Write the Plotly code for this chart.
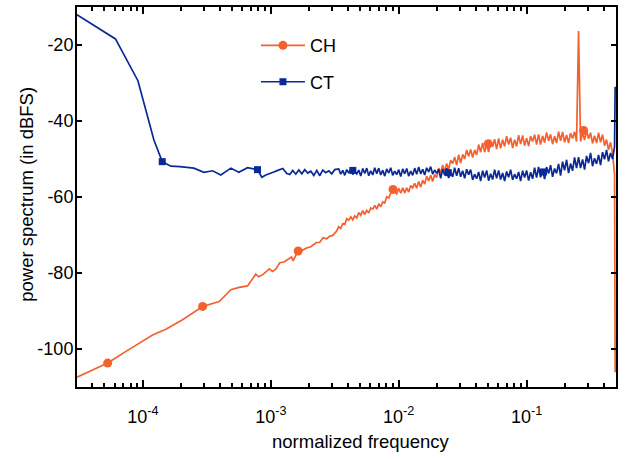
import plotly.graph_objects as go

# ---------------- data ----------------
# low-frequency part, CH
ch_f_lo = [3.05e-5, 5.30e-5, 7.64e-5, 1.088e-4, 1.19e-4, 1.512e-4, 2.04e-4, 2.93e-4, 3.95e-4,
           4.87e-4, 5.65e-4, 6.58e-4, 7.63e-4, 8.01e-4, 8.61e-4, 9.26e-4, 9.70e-4, 1.031e-3,
           1.094e-3, 1.176e-3, 1.263e-3, 1.365e-3, 1.451e-3, 1.493e-3, 1.634e-3, 1.747e-3,
           1.901e-3, 2.054e-3, 2.275e-3, 2.414e-3, 2.562e-3, 2.738e-3, 2.890e-3, 3.05e-3, 3.26e-3]
ch_db_lo = [-107.4, -103.7, -100.3, -97.0, -96.3, -94.8, -92.3, -88.8, -87.5,
            -84.4, -83.8, -83.4, -80.3, -81.0, -80.5, -79.6, -78.9, -79.6,
            -79.0, -77.3, -77.1, -76.4, -75.8, -76.8, -74.2, -74.1,
            -73.4, -73.1, -72.0, -71.9, -70.7, -71.0, -70.3, -70.1, -69.0]

# low-frequency part, CT
ct_f_lo = [3.05e-5, 6.10e-5, 9.14e-5, 1.219e-4, 1.416e-4, 1.656e-4, 1.945e-4, 2.503e-4, 2.996e-4,
           3.503e-4, 4.067e-4, 4.87e-4, 5.62e-4, 6.58e-4, 7.87e-4, 8.51e-4, 9.14e-4, 9.82e-4,
           1.055e-3, 1.134e-3, 1.241e-3, 1.334e-3, 1.407e-3, 1.485e-3, 1.568e-3, 1.655e-3,
           1.747e-3, 1.843e-3, 1.946e-3, 2.054e-3, 2.168e-3, 2.288e-3, 2.414e-3, 2.548e-3,
           2.690e-3, 2.839e-3, 2.996e-3, 3.162e-3]
ct_db_lo = [-12.0, -18.4, -29.4, -45.0, -50.7, -51.9, -52.0, -52.4, -53.5,
            -53.1, -54.2, -52.4, -53.5, -52.3, -52.8, -54.8, -54.2, -53.9,
            -53.4, -53.0, -52.5, -53.8, -54.1, -53.0, -54.0, -52.9,
            -53.9, -52.8, -53.7, -53.2, -54.3, -53.0, -54.4, -52.9,
            -53.6, -53.1, -53.9, -52.8]

# dense high-frequency grid shared by both series
f_hi = [3.398e-3, 3.523e-3, 3.652e-3, 3.786e-3, 3.924e-3, 4.068e-3, 4.217e-3, 4.371e-3, 4.532e-3, 4.698e-3,
        4.870e-3, 5.048e-3, 5.233e-3, 5.425e-3, 5.623e-3, 5.829e-3, 6.043e-3, 6.264e-3, 6.494e-3, 6.732e-3,
        6.978e-3, 7.234e-3, 7.499e-3, 7.774e-3, 8.058e-3, 8.354e-3, 8.660e-3, 8.977e-3, 9.306e-3, 9.647e-3,
        1.000e-2, 1.037e-2, 1.075e-2, 1.114e-2, 1.155e-2, 1.197e-2, 1.241e-2, 1.286e-2, 1.334e-2, 1.382e-2,
        1.433e-2, 1.486e-2, 1.540e-2, 1.596e-2, 1.655e-2, 1.715e-2, 1.778e-2, 1.843e-2, 1.911e-2, 1.981e-2,
        2.054e-2, 2.129e-2, 2.207e-2, 2.288e-2, 2.371e-2, 2.458e-2, 2.548e-2, 2.642e-2, 2.738e-2, 2.839e-2,
        2.943e-2, 3.051e-2, 3.162e-2, 3.278e-2, 3.398e-2, 3.523e-2, 3.652e-2, 3.786e-2, 3.924e-2, 4.068e-2,
        4.217e-2, 4.371e-2, 4.532e-2, 4.698e-2, 4.870e-2, 5.048e-2, 5.233e-2, 5.425e-2, 5.623e-2, 5.829e-2,
        6.043e-2, 6.264e-2, 6.494e-2, 6.732e-2, 6.978e-2, 7.234e-2, 7.499e-2, 7.774e-2, 8.058e-2, 8.354e-2,
        8.660e-2, 8.977e-2, 9.306e-2, 9.647e-2,
        0.1000, 0.1037, 0.1075, 0.1114, 0.1155, 0.1197,
        0.1241, 0.1286, 0.1334, 0.1382, 0.1433, 0.1486, 0.1540, 0.1596, 0.1655, 0.1715,
        0.1778, 0.1843, 0.1911, 0.1981, 0.2054, 0.2129, 0.2207, 0.2288, 0.2371, 0.2458,
        0.2548, 0.2642, 0.2738, 0.2839, 0.2943, 0.3051, 0.3162, 0.3278, 0.3398, 0.3523,
        0.3652, 0.3786, 0.3924, 0.4068, 0.4217, 0.4371, 0.4532, 0.4698, 0.4870]

ch_db_hi = [-67.8, -68.3, -67.0, -67.2, -65.7, -66.1, -65.2, -66.0, -65.0, -65.5,
            -64.1, -64.8, -63.6, -64.6, -63.5, -64.2, -62.9, -63.2, -62.2, -63.2,
            -61.8, -62.6, -61.3, -61.6, -59.9, -60.3, -59.0, -58.2, -58.6, -59.2,
            -57.7, -59.0, -57.6, -58.9, -57.6, -58.7, -57.0, -57.6, -56.4, -57.7,
            -55.9, -57.4, -55.6, -56.6, -54.5, -55.8, -54.3, -55.9, -54.1, -54.9,
            -52.4, -53.7, -51.6, -53.3, -51.2, -52.8, -50.3, -51.2, -49.5, -51.6,
            -48.9, -51.1, -48.8, -50.0, -47.6, -49.3, -47.5, -49.6, -47.6, -48.9,
            -46.2, -48.2, -45.8, -48.2, -46.1, -48.2, -45.4, -46.8, -44.8, -47.4,
            -44.6, -47.2, -44.9, -46.7, -44.0, -46.2, -44.4, -47.1, -44.9, -46.7,
            -43.7, -46.1, -43.8, -46.5, -44.5, -46.6, -44.0, -45.4, -43.6, -46.2,
            -43.5, -46.2, -43.9, -45.7, -43.0, -45.2, -43.5, -46.1, -44.0, -45.8,
            -42.8, -45.2, -42.9, -45.6, -43.7, -45.8, -43.2, -44.6, -42.8, -45.4,
            -16.3, -45.4, -43.2, -45.0, -42.5, -44.7, -43.1, -45.9, -43.9, -45.8,
            -43.1, -45.6, -43.6, -46.5, -44.9, -47.6, -45.6, -48.5, -54.0]

ct_db_hi = [-52.6, -54.0, -53.0, -54.3, -52.8, -53.7, -52.5, -54.1, -53.2, -53.9,
            -52.9, -54.5, -52.5, -53.8, -52.4, -54.4, -53.1, -54.2, -52.3, -53.9,
            -52.4, -54.2, -53.0, -54.5, -52.6, -53.7, -52.3, -54.3, -53.2, -54.1,
            -52.8, -54.6, -52.6, -53.9, -52.5, -54.5, -53.2, -54.3, -52.4, -54.0,
            -52.1, -53.9, -52.7, -54.2, -52.3, -53.4, -52.0, -54.0, -52.9, -53.8,
            -52.7, -55.1, -52.6, -54.3, -52.4, -55.0, -53.3, -54.7, -52.3, -54.4,
            -52.4, -54.7, -53.1, -55.1, -52.7, -54.1, -52.8, -55.5, -54.0, -55.2,
            -53.4, -55.8, -53.1, -54.9, -53.0, -55.7, -53.9, -55.4, -52.8, -55.1,
            -53.0, -55.4, -53.7, -55.8, -53.3, -54.8, -52.8, -55.5, -54.0, -55.2,
            -53.4, -55.8, -53.1, -54.9, -53.0, -55.7, -53.5, -55.2, -52.3, -54.9,
            -52.1, -54.8, -52.9, -55.3, -52.1, -53.8, -51.6, -54.7, -52.5, -53.8,
            -51.3, -54.4, -50.7, -53.0, -50.2, -53.7, -51.2, -53.1, -49.6, -52.4,
            -49.5, -52.4, -50.1, -52.8, -49.2, -51.1, -48.4, -51.9, -49.8, -51.3,
            -48.9, -51.6, -48.2, -50.1, -47.6, -50.6, -48.4, -50.0, -46.8]

# last bin (near Nyquist)
f_end = [0.4925]
ch_db_end = [-106.1]
ct_db_end = [-31.0]

# marker positions
ch_mk_f = [5.30e-5, 2.93e-4, 1.636e-3, 9.03e-3, 5.02e-2, 0.2794]
ch_mk_db = [-103.7, -88.8, -74.2, -58.0, -46.0, -42.5]
ct_mk_f = [1.416e-4, 7.87e-4, 4.38e-3, 2.44e-2, 0.1356]
ct_mk_db = [-50.7, -52.8, -53.0, -53.6, -53.4]

# axis ticks
x_tickvals = [1e-4, 1e-3, 1e-2, 1e-1]
x_ticktext = ["10<sup>-4</sup>", "10<sup>-3</sup>", "10<sup>-2</sup>", "10<sup>-1</sup>"]
x_minorvals = [4e-5, 5e-5, 6e-5, 7e-5, 8e-5, 9e-5,
               2e-4, 3e-4, 4e-4, 5e-4, 6e-4, 7e-4, 8e-4, 9e-4,
               2e-3, 3e-3, 4e-3, 5e-3, 6e-3, 7e-3, 8e-3, 9e-3,
               2e-2, 3e-2, 4e-2, 5e-2, 6e-2, 7e-2, 8e-2, 9e-2,
               0.2, 0.3, 0.4]
y_tickvals = [-100, -80, -60, -40, -20]
y_ticktext = ["-100", "-80", "-60", "-40", "-20"]

series_names = ["CH", "CT"]
ch_color = "#F4602E"
ct_color = "#0A2996"

# ---------------- figure ----------------
ch_f = ch_f_lo + f_hi + f_end
ch_db = ch_db_lo + ch_db_hi + ch_db_end
ct_f = ct_f_lo + f_hi + f_end
ct_db = ct_db_lo + ct_db_hi + ct_db_end

FONT = "Liberation Sans, Arial, Helvetica, sans-serif"

fig = go.Figure()
fig.add_trace(go.Scatter(x=ch_f, y=ch_db, mode="lines", line=dict(color=ch_color, width=1.7),
                         showlegend=False, legendgroup="ch", hoverinfo="skip"))
fig.add_trace(go.Scatter(x=ch_mk_f, y=ch_mk_db, mode="markers",
                         marker=dict(symbol="circle", size=9, color=ch_color),
                         showlegend=False, legendgroup="ch"))
fig.add_trace(go.Scatter(x=ct_f, y=ct_db, mode="lines", line=dict(color=ct_color, width=1.7),
                         showlegend=False, legendgroup="ct", hoverinfo="skip"))
fig.add_trace(go.Scatter(x=ct_mk_f, y=ct_mk_db, mode="markers",
                         marker=dict(symbol="square", size=7, color=ct_color),
                         showlegend=False, legendgroup="ct"))
# legend entries
fig.add_trace(go.Scatter(x=[None], y=[None], mode="lines+markers", name=series_names[0],
                         line=dict(color=ch_color, width=1.6),
                         marker=dict(symbol="circle", size=9, color=ch_color), legendgroup="ch"))
fig.add_trace(go.Scatter(x=[None], y=[None], mode="lines+markers", name=series_names[1],
                         line=dict(color=ct_color, width=1.6),
                         marker=dict(symbol="square", size=7, color=ct_color), legendgroup="ct"))

axis_common = dict(showline=True, linecolor="black", linewidth=2, mirror="ticks",
                   ticks="inside", tickcolor="black", tickwidth=1.5,
                   showgrid=False, zeroline=False,
                   tickfont=dict(family=FONT, size=18, color="black"))

fig.update_layout(
    width=635, height=460, autosize=False,
    margin=dict(l=77, r=18.5, t=5, b=73),
    paper_bgcolor="white", plot_bgcolor="white",
    font=dict(family=FONT, size=18, color="black"),
    xaxis=dict(type="log", range=[-4.5154, -0.3010], tickmode="array",
               tickvals=x_tickvals, ticktext=x_ticktext, ticklen=7,
               ticklabelstandoff=12,
               minor=dict(tickvals=x_minorvals, ticks="inside", ticklen=4,
                          tickwidth=1.5, tickcolor="black", showgrid=False),
               **axis_common),
    yaxis=dict(range=[-110, -10], tickmode="array", tickvals=y_tickvals,
               ticktext=y_ticktext, ticklen=5, ticklabelstandoff=-2, **axis_common),
    legend=dict(x=0.332, y=0.947, xanchor="left", yanchor="top",
                bgcolor="rgba(0,0,0,0)", borderwidth=0, itemwidth=44,
                font=dict(family=FONT, size=18, color="black"),
                traceorder="grouped", tracegroupgap=10),
    annotations=[
        dict(text="normalized frequency", xref="paper", yref="paper",
             x=0.5263, y=-0.1439, xanchor="center", yanchor="middle", showarrow=False,
             font=dict(family=FONT, size=18.5, color="black")),
        dict(text="power spectrum (in dBFS)", xref="paper", yref="paper",
             x=-0.0942, y=0.5065, xanchor="center", yanchor="middle", showarrow=False,
             textangle=-90, font=dict(family=FONT, size=18.5, color="black")),
    ],
)

fig.write_html("out.html", post_script="document.body.style.margin='0px';",
               config={"displayModeBar": False})
